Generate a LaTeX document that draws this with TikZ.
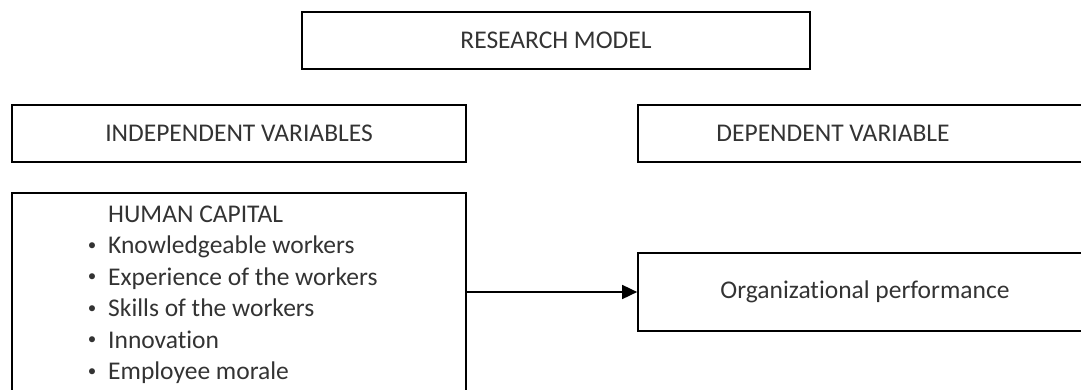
\documentclass[tikz,border=0pt]{standalone}
\usepackage{fontspec}
\setmainfont{Carlito}[Ligatures={NoCommon}]
\usetikzlibrary{arrows.meta}
\begin{document}
\begin{tikzpicture}[x=1pt,y=-1pt,
  box/.style={draw=black, line width=1.7pt, rectangle, inner sep=0pt},
  lbl/.style={font=\fontsize{25.5}{30}\selectfont, text=black!80, inner sep=0pt},
  item/.style={lbl, anchor=base west},
  dot/.style={font=\fontsize{17}{20}\selectfont, text=black!80, inner sep=0pt, anchor=center},
  arrow/.style={-{Triangle[length=15pt,width=14pt]}, line width=1.7pt}]
\useasboundingbox (0,0) rectangle (1081,389);
\begin{scope}
\clip (0,0) rectangle (1081,389);
\node[box, minimum width=508pt, minimum height=57pt] (rm) at (556,40.5) {};
\node[lbl] (rmt) at (rm.center) {RESEARCH MODEL};
\node[box, minimum width=454pt, minimum height=57pt] (indep) at (239,133.5) {};
\node[lbl] (indept) at (indep.center) {INDEPENDENT VARIABLES};
\node[box, minimum width=480pt, minimum height=57pt] (dep) at (878,133.5) {};
\node[lbl] (dept) at (833,133.5) {DEPENDENT VARIABLE};
\node[box, minimum width=454pt, minimum height=230pt] (hc) at (239,308) {};
\node[box, minimum width=480pt, minimum height=78pt] (org) at (878,292) {};
\node[lbl] (orgt) at (865,292) {Organizational performance};
\end{scope}
\node[item] (hct) at (108,222) {HUMAN CAPITAL};
\node[item] (i1) at (108,253.5) {Knowledgeable workers};
\node[item] (i2) at (108,285) {Experience of the workers};
\node[item] (i3) at (108,316.5) {Skills of the workers};
\node[item] (i4) at (108,348) {Innovation};
\node[item] (i5) at (108,379.5) {Employee morale};
\foreach \n in {i1,i2,i3,i4,i5}{
  \node[dot] at ([xshift=-16pt,yshift=7pt]\n.base west) {•};
}
\draw[arrow] (hc.east |- org.west) -- (org.west);
\end{tikzpicture}
\end{document}
